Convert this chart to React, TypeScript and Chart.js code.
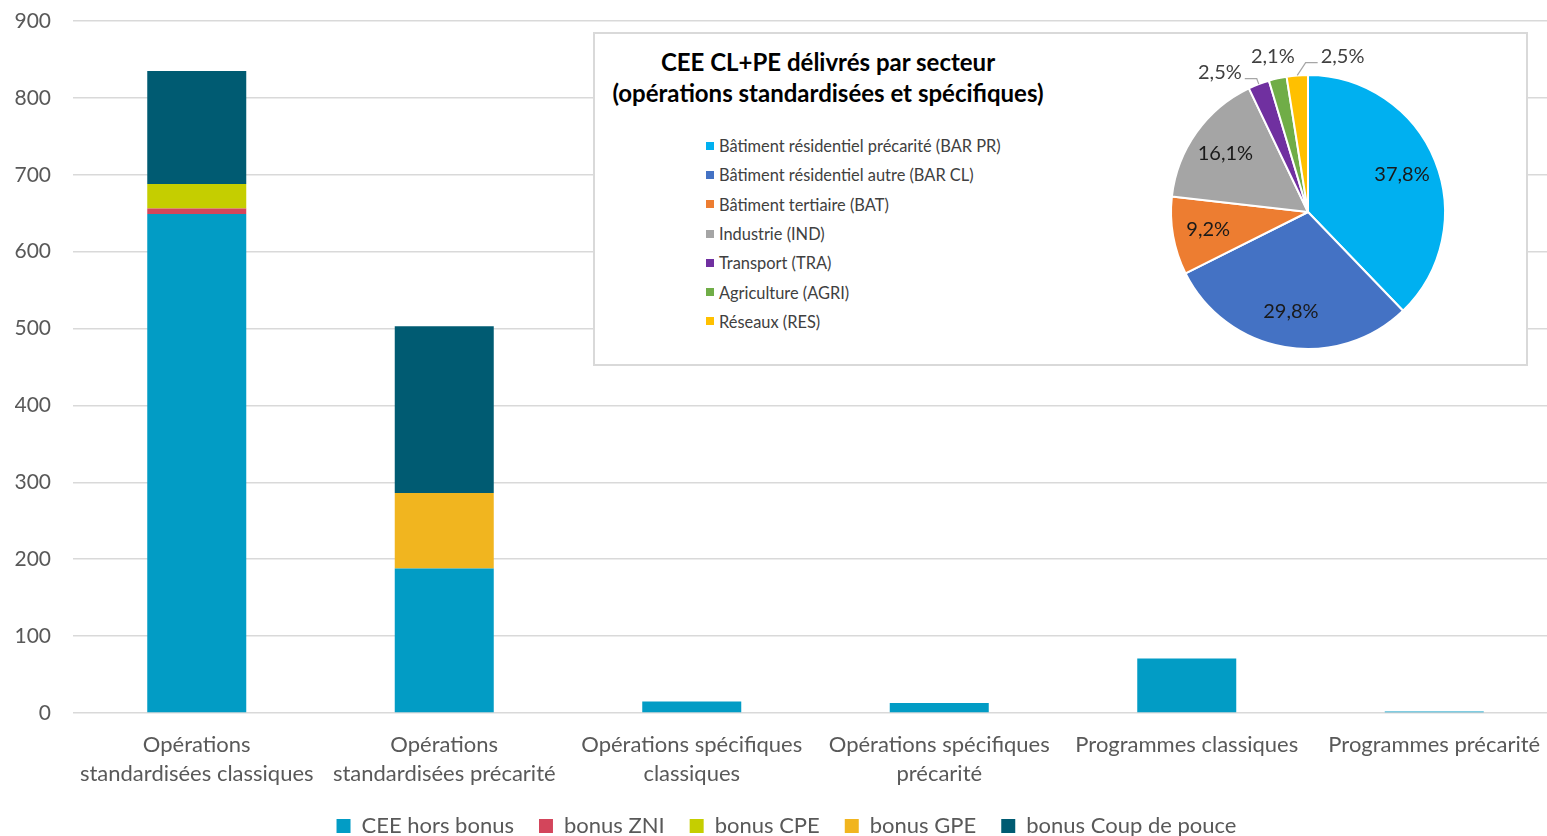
import { useEffect, useRef } from 'react';
import { Chart, registerables } from 'chart.js';

Chart.register(...registerables);

// ---------- Data ----------
const categories: (string | string[])[] = [
  ['Opérations', 'standardisées classiques'],
  ['Opérations', 'standardisées précarité'],
  ['Opérations spécifiques', 'classiques'],
  ['Opérations spécifiques', 'précarité'],
  'Programmes classiques',
  'Programmes précarité',
];
const seriesNames = ['CEE hors bonus', 'bonus ZNI', 'bonus CPE', 'bonus GPE', 'bonus Coup de pouce'];
const ceeHorsBonus = [649, 188, 15, 13, 71, 2];
const bonusZNI = [7, 0, 0, 0, 0, 0];
const bonusCPE = [32, 0, 0, 0, 0, 0];
const bonusGPE = [0, 98, 0, 0, 0, 0];
const bonusCoupDePouce = [147, 217, 0, 0, 0, 0];
const yMin = 0;
const yMax = 900;
const yStep = 100;

const pieTitle = ['CEE CL+PE délivrés par secteur', '(opérations standardisées et spécifiques)'];
const sectors = [
  'Bâtiment résidentiel précarité (BAR PR)',
  'Bâtiment résidentiel autre (BAR CL)',
  'Bâtiment tertiaire (BAT)',
  'Industrie (IND)',
  'Transport (TRA)',
  'Agriculture (AGRI)',
  'Réseaux (RES)',
];
const sectorShares = [37.8, 29.8, 9.2, 16.1, 2.5, 2.1, 2.5];

// ---------- Styles ----------
const fontFamily = 'Lato, "Open Sans", sans-serif';
const barColors = ['#029CC5', '#D3455B', '#C5CE00', '#F1B51F', '#005B72'];
const sectorColors = ['#00B0F0', '#4472C4', '#ED7D31', '#A5A5A5', '#7030A0', '#70AD47', '#FFC000'];
const outsideNudges: Record<number, [number, number]> = { 4: [-31, 9], 6: [47, 3] };

const pieLabelPlugin = {
  id: 'pieLabels',
  afterDatasetsDraw(chart: any) {
    const ctx = chart.ctx as CanvasRenderingContext2D;
    const meta = chart.getDatasetMeta(0);
    const values = chart.data.datasets[0].data as number[];
    ctx.save();
    ctx.font = `20px ${fontFamily}`;
    ctx.textAlign = 'center';
    ctx.textBaseline = 'middle';
    meta.data.forEach((el: any, i: number) => {
      const { x, y, startAngle, endAngle, outerRadius } = el.getProps(
        ['x', 'y', 'startAngle', 'endAngle', 'outerRadius'],
        true
      );
      const mid = (startAngle + endAngle) / 2;
      const text = values[i].toFixed(1).replace('.', ',') + '%';
      if (values[i] >= 5) {
        ctx.fillStyle = '#1a1a1a';
        ctx.fillText(text, x + Math.cos(mid) * outerRadius * 0.74, y + Math.sin(mid) * outerRadius * 0.74);
      } else {
        const nudge = outsideNudges[i] || [0, 0];
        const lx = x + Math.cos(mid) * outerRadius * 1.16 + nudge[0];
        const ly = y + Math.sin(mid) * outerRadius * 1.16 + nudge[1];
        ctx.fillStyle = '#404040';
        ctx.fillText(text, lx, ly);
        if (nudge[0] !== 0) {
          const w = ctx.measureText(text).width;
          const side = nudge[0] < 0 ? 1 : -1;
          const ex = lx + side * (w / 2 + 3);
          const ey = ly + 6;
          const ax = x + Math.cos(mid) * outerRadius;
          const ay = y + Math.sin(mid) * outerRadius;
          ctx.strokeStyle = '#a6a6a6';
          ctx.lineWidth = 1.2;
          ctx.beginPath();
          ctx.moveTo(ax, ay);
          ctx.lineTo(ex + side * 12, ey);
          ctx.lineTo(ex, ey);
          ctx.stroke();
        }
      }
    });
    ctx.restore();
  },
};

export default function App() {
  const barRef = useRef<HTMLCanvasElement>(null);
  const pieRef = useRef<HTMLCanvasElement>(null);

  useEffect(() => {
    const seriesData = [ceeHorsBonus, bonusZNI, bonusCPE, bonusGPE, bonusCoupDePouce];
    const bar = new Chart(barRef.current!, {
      type: 'bar',
      data: {
        labels: categories as any,
        datasets: seriesNames.map((name, i) => ({
          label: name,
          data: seriesData[i],
          backgroundColor: barColors[i],
          borderWidth: 0,
          barPercentage: 0.4,
          categoryPercentage: 1,
        })),
      },
      options: {
        animation: false,
        responsive: false,
        devicePixelRatio: 1,
        layout: { padding: { left: 15, right: 2, top: 21, bottom: 0 } },
        plugins: {
          legend: {
            position: 'bottom',
            labels: {
              boxWidth: 14,
              boxHeight: 14,
              padding: 25,
              color: '#595959',
              font: { family: fontFamily, size: 22 },
            },
          },
          tooltip: { enabled: false },
        },
        scales: {
          x: {
            stacked: true,
            grid: { display: false, drawTicks: false },
            border: { display: false },
            ticks: {
              color: '#595959',
              font: { family: fontFamily, size: 22, lineHeight: 1.32 },
              padding: 17,
              maxRotation: 0,
              autoSkip: false,
            },
            afterFit: (s: any) => {
              s.height = 77;
            },
          },
          y: {
            stacked: true,
            min: yMin,
            max: yMax,
            ticks: { stepSize: yStep, color: '#595959', font: { family: fontFamily, size: 21 }, padding: 22 },
            grid: { color: '#d9d9d9', lineWidth: 1.5, drawTicks: false },
            border: { display: false },
            afterFit: (s: any) => {
              s.width = 58;
              s.paddingTop = 0;
              s.paddingBottom = 0;
            },
          },
        },
      },
    });

    const pie = new Chart(pieRef.current!, {
      type: 'pie',
      data: {
        labels: sectors,
        datasets: [
          {
            data: sectorShares,
            backgroundColor: sectorColors,
            borderColor: '#ffffff',
            borderWidth: 2,
            radius: 137,
          } as any,
        ],
      },
      options: {
        animation: false,
        responsive: false,
        devicePixelRatio: 1,
        layout: { padding: 0 },
        plugins: { legend: { display: false }, tooltip: { enabled: false } },
      },
      plugins: [pieLabelPlugin],
    });

    return () => {
      bar.destroy();
      pie.destroy();
    };
  }, []);

  return (
    <div
      style={{
        position: 'absolute',
        left: 0,
        top: 0,
        width: 1547,
        height: 836,
        overflow: 'hidden',
        background: '#ffffff',
      }}
    >
      <canvas
        ref={barRef}
        width={1560}
        height={847}
        style={{ position: 'absolute', left: 0, top: 0, width: 1560, height: 847 }}
      />
      <div
        style={{
          position: 'absolute',
          left: 593,
          top: 32,
          width: 935,
          height: 334,
          border: '2px solid #d9d9d9',
          boxSizing: 'border-box',
          background: '#ffffff',
          fontFamily,
          overflow: 'hidden',
        }}
      >
        <div
          style={{
            position: 'absolute',
            left: 0,
            top: 12,
            width: 466,
            textAlign: 'center',
            fontWeight: 700,
            fontSize: 24,
            lineHeight: '31px',
            color: '#000000',
            whiteSpace: 'nowrap',
          }}
        >
          {pieTitle.map((t) => (
            <div key={t}>{t}</div>
          ))}
        </div>
        <div style={{ position: 'absolute', left: 111, top: 97 }}>
          {sectors.map((s, i) => (
            <div
              key={s}
              style={{
                display: 'flex',
                alignItems: 'center',
                height: 29.3,
                fontSize: 16.4,
                color: '#404040',
                whiteSpace: 'nowrap',
              }}
            >
              <span
                style={{
                  display: 'inline-block',
                  width: 8,
                  height: 8,
                  background: sectorColors[i],
                  marginRight: 5,
                }}
              />
              {s}
            </div>
          ))}
        </div>
        <canvas
          ref={pieRef}
          width={340}
          height={340}
          style={{ position: 'absolute', left: 543, top: 8, width: 340, height: 340 }}
        />
      </div>
    </div>
  );
}
